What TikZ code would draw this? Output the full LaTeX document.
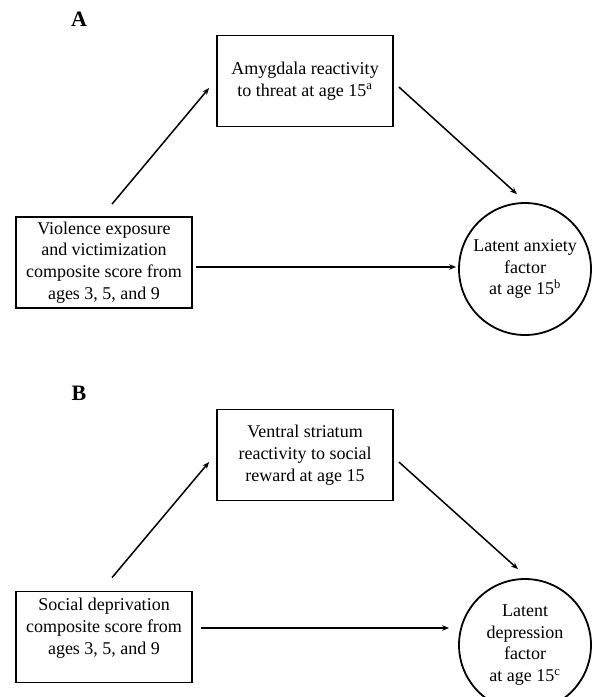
\documentclass[tikz,border=0pt]{standalone}
\usepackage{fontspec}
\setmainfont{Liberation Serif}
\usetikzlibrary{arrows.meta,calc}

\tikzset{
  box/.style={draw, line width=1.8pt, minimum width=176pt, minimum height=91pt,
    inner sep=0pt, align=center, font=\fontsize{18}{21.7}\selectfont},
  latent/.style={draw, circle, line width=1.8pt, minimum size=132pt,
    inner sep=0pt, align=center, font=\fontsize{18}{21.7}\selectfont},
  effect/.style={line width=1.5pt, -{Stealth[length=7pt,width=5.5pt]}},
  panel/.style={font=\fontsize{22}{26}\selectfont\bfseries}
}

\begin{document}
\begin{tikzpicture}[x=1pt,y=-1pt]
			\useasboundingbox (0,0) rectangle (593,697);

			% panel A
			\node[panel] (pA) at (79,19) {A};
			\node[box] (amyg) at (305,81) {Amygdala reactivity\\to threat at age 15\textsuperscript{a}};
			\node[box] (viol) at (104,262.5) {Violence exposure\\and victimization\\composite score from\\ages 3, 5, and 9};
			\node[latent] (anx) at (525,269) {Latent anxiety\\factor\\at age 15\textsuperscript{b}};

			\draw[effect] ($(viol.north)+(8,-12)$) -- ($(amyg.west)+(-7,7)$);
			\draw[effect] ($(amyg.east)+(5,6)$) -- ($(anx.north)+(-8,-8)$);
			\draw[effect] ($(viol.east)+(3,4.5)$) -- ($(viol.east -| anx.west)+(-2,4.5)$);

			% panel B
			\node[panel] (pB) at (79,393) {B};
			\node[box] (vstr) at (305,455) {Ventral striatum\\reactivity to social\\reward at age 15};
			\node[box] (soc) at (104,637) {Social deprivation\\composite score from\\ages 3, 5, and 9\\\mbox{}};
			\node[latent] (dep) at (525,645) {Latent\\depression\\factor\\at age 15\textsuperscript{c}};

			\draw[effect] ($(soc.north)+(8,-13)$) -- ($(vstr.west)+(-7,7)$);
			\draw[effect] ($(vstr.east)+(5,7)$) -- ($(dep.north)+(-7,-9)$);
			\draw[effect] ($(soc.east)+(8,-9)$) -- ($(soc.east -| dep.west)+(-9,-9)$);
		\end{tikzpicture}
\end{document}
